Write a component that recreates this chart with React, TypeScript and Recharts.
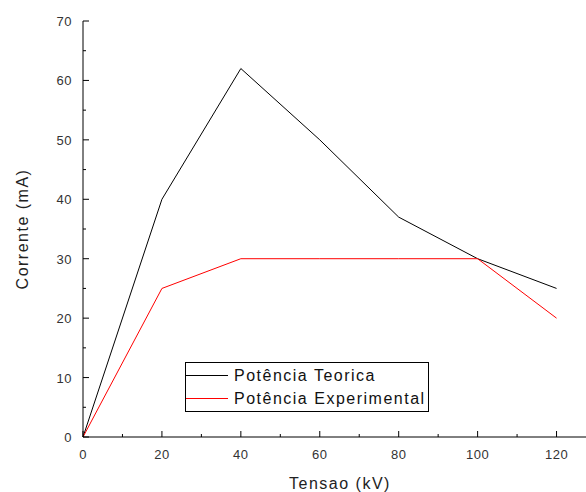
import React from 'react';
import { LineChart, Line, XAxis, YAxis } from 'recharts';

const tensao = [0, 20, 40, 60, 80, 100, 120];
const teorica = [0, 40, 62, 50, 37, 30, 25];
const experimental = [0, 25, 30, 30, 30, 30, 20];

const xTicks = [0, 10, 20, 30, 40, 50, 60, 70, 80, 90, 100, 110, 120];
const yTicks = [0, 5, 10, 15, 20, 25, 30, 35, 40, 45, 50, 55, 60, 65, 70];

const chartData = tensao.map((t, i) => ({
  tensao: t,
  teorica: teorica[i],
  experimental: experimental[i],
}));

const PLOT_LEFT = 83;
const PLOT_TOP = 21;
const PLOT_BOTTOM = 437;
const FONT = '"Liberation Sans", Arial, sans-serif';

const YTick = (props: any) => {
  const { y, payload } = props;
  const major = payload.value % 10 === 0;
  return (
    <g>
      <line x1={PLOT_LEFT} x2={PLOT_LEFT + (major ? 6 : 3)} y1={y} y2={y} stroke="#000" />
      {major && (
        <text x={72} y={y + 5} textAnchor="end" fontSize={13} fill="#333" fontFamily={FONT} letterSpacing={0.5}>
          {payload.value}
        </text>
      )}
    </g>
  );
};

const XTick = (props: any) => {
  const { x, payload } = props;
  const major = payload.value % 20 === 0;
  return (
    <g>
      <line x1={x} x2={x} y1={PLOT_BOTTOM} y2={PLOT_BOTTOM - (major ? 6 : 3)} stroke="#000" />
      {major && (
        <text x={x} y={459} textAnchor="middle" fontSize={13} fill="#333" fontFamily={FONT} letterSpacing={0.5}>
          {payload.value}
        </text>
      )}
    </g>
  );
};

const TopTick = (props: any) => {
  const { x, payload } = props;
  const major = payload.value % 20 === 0;
  return <line x1={x} x2={x} y1={PLOT_TOP} y2={PLOT_TOP + (major ? 6 : 3)} stroke="#000" />;
};

const legendItems = [
  { name: 'Potência Teorica', color: '#000' },
  { name: 'Potência Experimental', color: '#ff0000' },
];

export default function App() {
  return (
    <div style={{ position: 'absolute', left: 0, top: 0, width: 586, height: 492, overflow: 'hidden', background: '#fff' }}>
      <LineChart width={620} height={492} data={chartData} margin={{ top: PLOT_TOP, right: 24, bottom: 0, left: 0 }}>
        <XAxis
          dataKey="tensao"
          type="number"
          domain={[0, 130]}
          ticks={xTicks}
          height={55}
          axisLine={{ stroke: '#000' }}
          tickLine={false}
          tick={XTick}
          interval={0}
          label={() => (
            <text x={340} y={489} textAnchor="middle" fontSize={16} fill="#222" fontFamily={FONT} letterSpacing={1.5}>
              Tensao (kV)
            </text>
          )}
        />
        <XAxis
          xAxisId="top"
          dataKey="tensao"
          type="number"
          orientation="top"
          domain={[0, 130]}
          ticks={xTicks}
          height={0}
          axisLine={{ stroke: '#000' }}
          tickLine={false}
          tick={TopTick}
          interval={0}
        />
        <YAxis
          type="number"
          domain={[0, 70]}
          ticks={yTicks}
          width={PLOT_LEFT}
          axisLine={{ stroke: '#000' }}
          tickLine={false}
          tick={YTick}
          interval={0}
          label={() => (
            <text
              x={28}
              y={229}
              textAnchor="middle"
              fontSize={16}
              fill="#222"
              fontFamily={FONT}
              letterSpacing={1.5}
              transform="rotate(-90 28 229)"
            >
              Corrente (mA)
            </text>
          )}
        />
        <Line type="linear" dataKey="teorica" stroke="#000" strokeWidth={1} dot={false} isAnimationActive={false} />
        <Line type="linear" dataKey="experimental" stroke="#ff0000" strokeWidth={1} dot={false} isAnimationActive={false} />
      </LineChart>
      <div
        style={{
          position: 'absolute',
          left: 185,
          top: 362,
          width: 242,
          height: 48,
          border: '1px solid #000',
          background: '#fff',
          fontFamily: FONT,
          fontSize: 16,
          letterSpacing: 1.5,
          color: '#111',
        }}
      >
        {legendItems.map((item) => (
          <div key={item.name} style={{ display: 'flex', alignItems: 'center', height: 23, marginTop: item === legendItems[0] ? 1 : 0 }}>
            <div style={{ width: 42, height: 1, background: item.color }} />
            <span style={{ marginLeft: 6, lineHeight: '23px' }}>{item.name}</span>
          </div>
        ))}
      </div>
    </div>
  );
}
